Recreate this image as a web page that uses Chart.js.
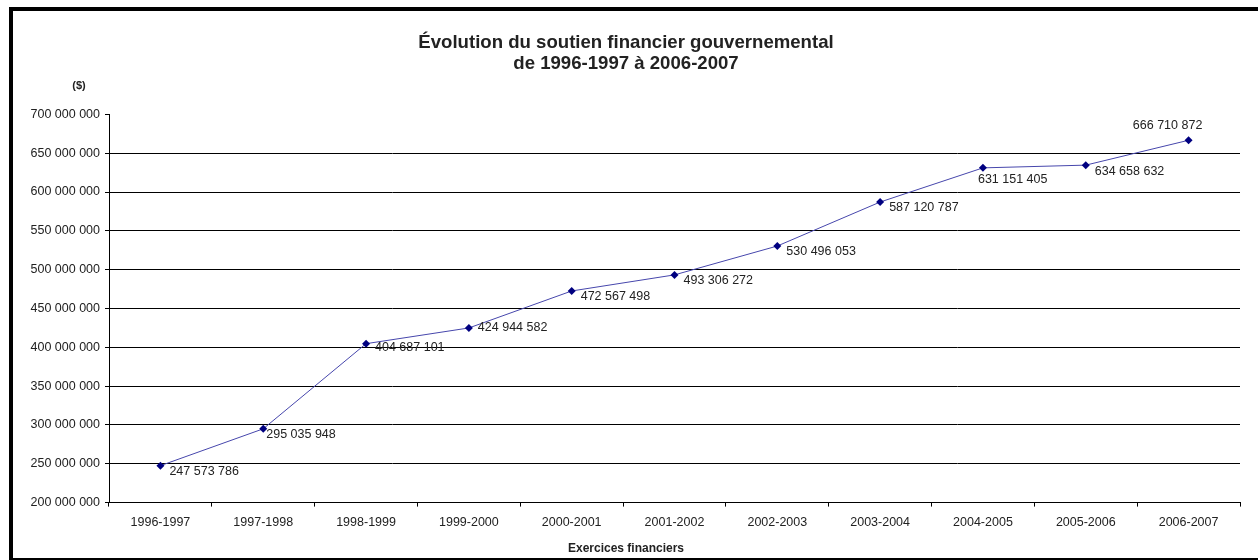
<!DOCTYPE html>
<html>
<head>
<meta charset="utf-8">
<script src="https://cdn.jsdelivr.net/npm/chart.js@4"></script>
<style>
  html, body { margin: 0; padding: 0; background: #fff; overflow: hidden; }
  #wrap { position: relative; width: 1258px; height: 560px; }
  #frame {
    position: absolute; left: 9px; top: 7px; width: 1300px; height: 547px;
    border: 4px solid #000; pointer-events: none;
  }
  #chartCanvas { position: absolute; left: 0; top: 0; }
</style>
</head>
<body>
<div id="wrap">
  <canvas id="chartCanvas" width="1258" height="560"></canvas>
  <div id="frame"></div>
</div>
<script>
// données
const exercices = ['1996-1997', '1997-1998', '1998-1999', '1999-2000', '2000-2001', '2001-2002',
  '2002-2003', '2003-2004', '2004-2005', '2005-2006', '2006-2007'];
const soutien = [247573786, 295035948, 404687101, 424944582, 472567498, 493306272,
  530496053, 587120787, 631151405, 634658632, 666710872];

const FONT = "'Liberation Sans', Arial, sans-serif";

function fmt(n) {
  return String(Math.round(n)).replace(/\B(?=(\d{3})+(?!\d))/g, ' ');
}

// placement des étiquettes (comme dans Excel, à droite du point, quelques ajustements)
const labelNudge = {
  1: { dx: 3 },
  2: { dy: 4 },
  3: { dy: 0 },
  8: { dx: -5, dy: 12 },
  10: { dx: -21, dy: -15, align: 'center' }
};

const pointLabels = {
  id: 'pointLabels',
  afterDatasetsDraw(chart) {
    const ctx = chart.ctx;
    const meta = chart.getDatasetMeta(0);
    ctx.save();
    ctx.font = '12.5px ' + FONT;
    ctx.fillStyle = '#222';
    ctx.textBaseline = 'middle';
    meta.data.forEach((pt, i) => {
      const n = Object.assign({ dx: 9, dy: 6, align: 'left' }, labelNudge[i] || {});
      ctx.textAlign = n.align;
      ctx.fillText(fmt(soutien[i]), pt.x + n.dx, pt.y + n.dy);
    });
    // unité de l'axe
    ctx.font = 'bold 11px ' + FONT;
    ctx.textAlign = 'center';
    ctx.fillText('($)', chart.chartArea.left - 30, chart.chartArea.top - 28);
    ctx.restore();
  }
};

let ctx = document.querySelector('#chartCanvas');
let graph = new Chart(ctx, {
  type: 'line',
  data: {
    labels: exercices,
    datasets: [{
      data: soutien,
      borderColor: '#4646ac',
      borderWidth: 1,
      pointStyle: 'rectRot',
      pointRadius: 4,
      pointBackgroundColor: '#000080',
      pointBorderColor: '#000080',
      pointBorderWidth: 0,
      tension: 0
    }]
  },
  options: {
    responsive: false,
    animation: false,
    layout: { padding: { left: 12, right: 18, top: 0, bottom: 0 } },
    plugins: {
      legend: { display: false },
      tooltip: { enabled: false },
      title: {
        display: true,
        text: ['Évolution du soutien financier gouvernemental', 'de 1996-1997 à 2006-2007'],
        color: '#222',
        font: { family: FONT, size: 18.6, weight: 'bold', lineHeight: 1.14 },
        padding: { top: 32, bottom: 40 }
      },
      subtitle: {
        display: true,
        position: 'bottom',
        text: 'Exercices financiers',
        color: '#222',
        font: { family: FONT, size: 12, weight: 'bold', lineHeight: 1.2 },
        padding: { top: 4, bottom: 4 }
      }
    },
    scales: {
      x: {
        offset: true,
        grid: {
          offset: true,
          drawOnChartArea: false,
          tickLength: 4,
          tickColor: '#000'
        },
        border: { display: true, color: '#000', width: 1 },
        ticks: {
          color: '#222',
          font: { family: FONT, size: 12.5 },
          padding: 8,
          maxRotation: 0,
          autoSkip: false
        }
      },
      y: {
        min: 200000000,
        max: 700000000,
        afterFit(scale) { scale.width = 97; },
        grid: {
          color: (c) => (c.tick && c.tick.value === 700000000) ? 'rgba(0,0,0,0)' : '#000',
          tickColor: '#000',
          tickLength: 4,
          lineWidth: 1
        },
        border: { display: true, color: '#000', width: 1 },
        ticks: {
          stepSize: 50000000,
          color: '#222',
          font: { family: FONT, size: 12.5 },
          padding: 5,
          callback: (v) => fmt(v)
        }
      }
    }
  },
  plugins: [pointLabels]
});
</script>
</body>
</html>
